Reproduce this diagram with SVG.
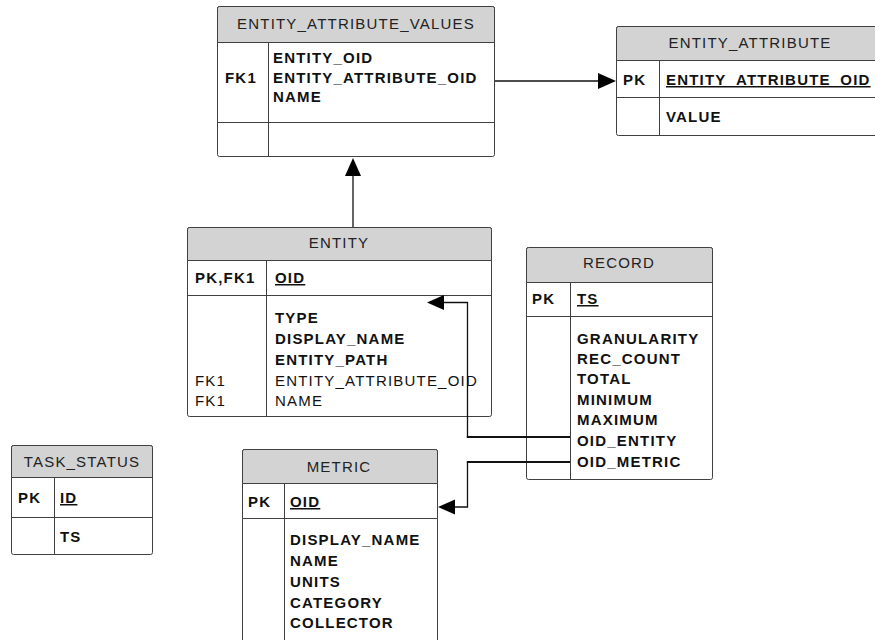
<svg xmlns="http://www.w3.org/2000/svg" width="875" height="640" viewBox="0 0 875 640">
<style>
text{font-family:"Liberation Sans",Arial,sans-serif;font-size:15px;letter-spacing:1.2px;fill:#111}
.t{text-anchor:middle;fill:#222}
.b{font-weight:bold}
.u{text-decoration:underline}
.box{fill:#fff;stroke:#404040;stroke-width:1}
.hd{fill:#d3d3d3;stroke:#404040;stroke-width:1}
.ln{stroke:#404040;stroke-width:1;fill:none}
.cn{stroke:#111;stroke-width:1.3;fill:none}
.cw{stroke:#111;stroke-width:2;fill:none}
.ah{fill:#000;stroke:none}
</style>
<rect width="875" height="640" fill="#fff"/>

<g id="entity_attribute_values">
<rect class="box" x="217.5" y="6.5" width="277" height="150" rx="2"/>
<path class="hd" d="M219.5 6.5 H492.5 Q494.5 6.5 494.5 8.5 V42.5 H217.5 V8.5 Q217.5 6.5 219.5 6.5 Z"/>
<line class="ln" x1="217.5" y1="122.5" x2="494.5" y2="122.5"/>
<line class="ln" x1="268.5" y1="42.5" x2="268.5" y2="156.5"/>
<text class="t" x="356" y="29">ENTITY_ATTRIBUTE_VALUES</text>
<text class="b" x="225" y="83">FK1</text>
<text class="b" x="273" y="63">ENTITY_OID</text>
<text class="b" x="273" y="83">ENTITY_ATTRIBUTE_OID</text>
<text class="b" x="273" y="102">NAME</text>
</g>

<g id="entity_attribute">
<rect class="box" x="616.5" y="26.5" width="270" height="109" rx="2"/>
<path class="hd" d="M618.5 26.5 H886.5 V60.5 H616.5 V28.5 Q616.5 26.5 618.5 26.5 Z"/>
<line class="ln" x1="616.5" y1="97.5" x2="886.5" y2="97.5"/>
<line class="ln" x1="659.5" y1="60.5" x2="659.5" y2="135.5"/>
<text class="t" x="750" y="48">ENTITY_ATTRIBUTE</text>
<text class="b" x="623" y="85">PK</text>
<text class="b u" x="666" y="85">ENTITY_ATTRIBUTE_OID</text>
<text class="b" x="666" y="122">VALUE</text>
</g>

<g id="entity">
<rect class="box" x="187.5" y="227.5" width="304" height="189" rx="2"/>
<path class="hd" d="M189.5 227.5 H489.5 Q491.5 227.5 491.5 229.5 V260.5 H187.5 V229.5 Q187.5 227.5 189.5 227.5 Z"/>
<line class="ln" x1="187.5" y1="295.5" x2="491.5" y2="295.5"/>
<line class="ln" x1="266.5" y1="260.5" x2="266.5" y2="416.5"/>
<text class="t" x="339" y="248">ENTITY</text>
<text class="b" x="195" y="283">PK,FK1</text>
<text class="b u" x="275" y="283">OID</text>
<text class="b" x="275" y="323">TYPE</text>
<text class="b" x="275" y="344">DISPLAY_NAME</text>
<text class="b" x="275" y="365">ENTITY_PATH</text>
<text x="195" y="386">FK1</text>
<text x="275" y="386">ENTITY_ATTRIBUTE_OID</text>
<text x="195" y="406">FK1</text>
<text x="275" y="406">NAME</text>
</g>

<g id="record">
<rect class="box" x="526.5" y="247.5" width="186" height="232" rx="2"/>
<path class="hd" d="M528.5 247.5 H710.5 Q712.5 247.5 712.5 249.5 V282.5 H526.5 V249.5 Q526.5 247.5 528.5 247.5 Z"/>
<line class="ln" x1="526.5" y1="316.5" x2="712.5" y2="316.5"/>
<line class="ln" x1="570.5" y1="282.5" x2="570.5" y2="479.5"/>
<text class="t" x="619" y="268">RECORD</text>
<text class="b" x="532" y="304">PK</text>
<text class="b u" x="577" y="304">TS</text>
<text class="b" x="577" y="344">GRANULARITY</text>
<text class="b" x="577" y="364">REC_COUNT</text>
<text class="b" x="577" y="384">TOTAL</text>
<text class="b" x="577" y="405">MINIMUM</text>
<text class="b" x="577" y="425">MAXIMUM</text>
<text class="b" x="577" y="446">OID_ENTITY</text>
<text class="b" x="577" y="467">OID_METRIC</text>
</g>

<g id="task_status">
<rect class="box" x="11.5" y="445.5" width="141" height="109" rx="2"/>
<path class="hd" d="M13.5 445.5 H150.5 Q152.5 445.5 152.5 447.5 V477.5 H11.5 V447.5 Q11.5 445.5 13.5 445.5 Z"/>
<line class="ln" x1="11.5" y1="517.5" x2="152.5" y2="517.5"/>
<line class="ln" x1="54.5" y1="477.5" x2="54.5" y2="554.5"/>
<text class="t" x="82" y="467">TASK_STATUS</text>
<text class="b" x="18" y="503">PK</text>
<text class="b u" x="60" y="503">ID</text>
<text class="b" x="60" y="542">TS</text>
</g>

<g id="metric">
<rect class="box" x="242.5" y="449.5" width="195" height="210" rx="2"/>
<path class="hd" d="M244.5 449.5 H435.5 Q437.5 449.5 437.5 451.5 V483.5 H242.5 V451.5 Q242.5 449.5 244.5 449.5 Z"/>
<line class="ln" x1="242.5" y1="518.5" x2="437.5" y2="518.5"/>
<line class="ln" x1="284.5" y1="483.5" x2="284.5" y2="660"/>
<text class="t" x="339" y="472">METRIC</text>
<text class="b" x="248" y="507">PK</text>
<text class="b u" x="290" y="507">OID</text>
<text class="b" x="290" y="545">DISPLAY_NAME</text>
<text class="b" x="290" y="566">NAME</text>
<text class="b" x="290" y="587">UNITS</text>
<text class="b" x="290" y="608">CATEGORY</text>
<text class="b" x="290" y="628">COLLECTOR</text>
</g>

<g id="connectors">
<line class="cn" x1="495" y1="81" x2="600" y2="81"/>
<polygon class="ah" points="616,81 598,73 598,89"/>
<line class="cn" x1="353" y1="227" x2="353" y2="174"/>
<polygon class="ah" points="353,158 345,176 361,176"/>
<path class="cn" d="M467.5 437 V302.5 H443"/>
<line class="cw" x1="570" y1="437" x2="466.8" y2="437"/>
<polygon class="ah" points="427,302.5 444,295 444,310"/>
<path class="cn" d="M467.5 462 V507 H454"/>
<line class="cw" x1="570" y1="462" x2="466.8" y2="462"/>
<polygon class="ah" points="438,507 455,499.5 455,514.5"/>
</g>
</svg>
